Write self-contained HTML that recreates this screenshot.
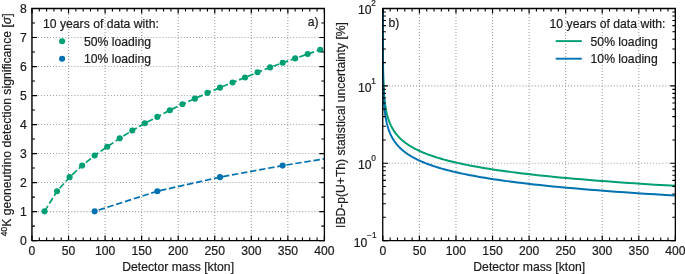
<!DOCTYPE html>
<html><head><meta charset="utf-8"><title>chart</title>
<style>html,body{margin:0;padding:0;background:#fff;}svg{display:block;will-change:transform;}text{font-family:"Liberation Sans",sans-serif;fill:#1a1a1a;stroke:#1a1a1a;stroke-width:0.2px;}</style>
</head><body>
<svg width="685" height="274" viewBox="0 0 685 274">
<rect width="685" height="274" fill="#fff"/>
<defs><clipPath id="ca"><rect x="32.00" y="8.50" width="292.40" height="232.10"/></clipPath>
<clipPath id="cb"><rect x="382.85" y="8.50" width="292.50" height="232.10"/></clipPath></defs>
<g stroke="#a0a0a0" stroke-width="1.1" fill="none">
<path stroke-dasharray="1.0 2.0" stroke-dashoffset="-0.65" d="M68.55 240.60V8.50"/>
<path stroke-dasharray="1.0 2.0" stroke-dashoffset="-0.65" d="M105.10 240.60V8.50"/>
<path stroke-dasharray="1.0 2.0" stroke-dashoffset="-0.65" d="M141.65 240.60V8.50"/>
<path stroke-dasharray="1.0 2.0" stroke-dashoffset="-0.65" d="M178.20 240.60V8.50"/>
<path stroke-dasharray="1.0 2.0" stroke-dashoffset="-0.65" d="M214.75 240.60V8.50"/>
<path stroke-dasharray="1.0 2.0" stroke-dashoffset="-0.65" d="M251.30 240.60V8.50"/>
<path stroke-dasharray="1.0 2.0" stroke-dashoffset="-0.65" d="M287.85 240.60V8.50"/>
<path stroke-dasharray="1.0 2.04" stroke-dashoffset="0.2" d="M32.00 211.59H324.40"/>
<path stroke-dasharray="1.0 2.04" stroke-dashoffset="0.2" d="M32.00 182.57H324.40"/>
<path stroke-dasharray="1.0 2.04" stroke-dashoffset="0.2" d="M32.00 153.56H324.40"/>
<path stroke-dasharray="1.0 2.04" stroke-dashoffset="0.2" d="M32.00 124.55H324.40"/>
<path stroke-dasharray="1.0 2.04" stroke-dashoffset="0.2" d="M32.00 95.54H324.40"/>
<path stroke-dasharray="1.0 2.04" stroke-dashoffset="0.2" d="M32.00 66.53H324.40"/>
<path stroke-dasharray="1.0 2.04" stroke-dashoffset="0.2" d="M32.00 37.51H324.40"/>
<path stroke-dasharray="1.0 2.0" stroke-dashoffset="-0.65" d="M419.41 240.60V8.50"/>
<path stroke-dasharray="1.0 2.0" stroke-dashoffset="-0.65" d="M455.98 240.60V8.50"/>
<path stroke-dasharray="1.0 2.0" stroke-dashoffset="-0.65" d="M492.54 240.60V8.50"/>
<path stroke-dasharray="1.0 2.0" stroke-dashoffset="-0.65" d="M529.10 240.60V8.50"/>
<path stroke-dasharray="1.0 2.0" stroke-dashoffset="-0.65" d="M565.66 240.60V8.50"/>
<path stroke-dasharray="1.0 2.0" stroke-dashoffset="-0.65" d="M602.23 240.60V8.50"/>
<path stroke-dasharray="1.0 2.0" stroke-dashoffset="-0.65" d="M638.79 240.60V8.50"/>
<path stroke-dasharray="1.0 2.04" stroke-dashoffset="0.2" d="M382.85 163.23H675.35"/>
<path stroke-dasharray="1.0 2.04" stroke-dashoffset="0.2" d="M382.85 85.87H675.35"/>
</g>
<g clip-path="url(#ca)">
<path d="M44.53 211.34 L57.06 191.21 L69.60 177.16 L82.13 165.58 L94.66 155.44 L107.19 146.75 L119.73 138.35 L132.26 130.53 L144.79 123.29 L157.32 116.92 L169.86 110.26 L182.39 104.18 L194.92 98.67 L207.45 92.88 L219.99 87.67 L232.52 82.45 L245.05 77.53 L257.58 72.32 L270.11 67.39 L282.65 62.76 L295.18 58.42 L307.71 54.07 L320.24 49.73 L332.78 45.67" fill="none" stroke="#009E73" stroke-width="1.7" stroke-dasharray="6.45 2.75" stroke-dashoffset="0"/>
<path d="M94.66 211.34 L157.32 191.21 L219.99 177.16 L282.65 165.58 L345.31 155.44" fill="none" stroke="#0072B2" stroke-width="1.7" stroke-dasharray="6.45 2.75" stroke-dashoffset="5.0"/>
<circle cx="44.53" cy="211.34" r="3.05" fill="#009E73"/>
<circle cx="57.06" cy="191.21" r="3.05" fill="#009E73"/>
<circle cx="69.60" cy="177.16" r="3.05" fill="#009E73"/>
<circle cx="82.13" cy="165.58" r="3.05" fill="#009E73"/>
<circle cx="94.66" cy="155.44" r="3.05" fill="#009E73"/>
<circle cx="107.19" cy="146.75" r="3.05" fill="#009E73"/>
<circle cx="119.73" cy="138.35" r="3.05" fill="#009E73"/>
<circle cx="132.26" cy="130.53" r="3.05" fill="#009E73"/>
<circle cx="144.79" cy="123.29" r="3.05" fill="#009E73"/>
<circle cx="157.32" cy="116.92" r="3.05" fill="#009E73"/>
<circle cx="169.86" cy="110.26" r="3.05" fill="#009E73"/>
<circle cx="182.39" cy="104.18" r="3.05" fill="#009E73"/>
<circle cx="194.92" cy="98.67" r="3.05" fill="#009E73"/>
<circle cx="207.45" cy="92.88" r="3.05" fill="#009E73"/>
<circle cx="219.99" cy="87.67" r="3.05" fill="#009E73"/>
<circle cx="232.52" cy="82.45" r="3.05" fill="#009E73"/>
<circle cx="245.05" cy="77.53" r="3.05" fill="#009E73"/>
<circle cx="257.58" cy="72.32" r="3.05" fill="#009E73"/>
<circle cx="270.11" cy="67.39" r="3.05" fill="#009E73"/>
<circle cx="282.65" cy="62.76" r="3.05" fill="#009E73"/>
<circle cx="295.18" cy="58.42" r="3.05" fill="#009E73"/>
<circle cx="307.71" cy="54.07" r="3.05" fill="#009E73"/>
<circle cx="320.24" cy="49.73" r="3.05" fill="#009E73"/>
<circle cx="332.78" cy="45.67" r="3.05" fill="#009E73"/>
<circle cx="94.66" cy="211.34" r="3.05" fill="#0072B2"/>
<circle cx="157.32" cy="191.21" r="3.05" fill="#0072B2"/>
<circle cx="219.99" cy="177.16" r="3.05" fill="#0072B2"/>
<circle cx="282.65" cy="165.58" r="3.05" fill="#0072B2"/>
<circle cx="345.31" cy="155.44" r="3.05" fill="#0072B2"/>
</g>
<g clip-path="url(#cb)">
<path d="M382.85 -3.81 L382.85 -3.15 L382.85 -2.49 L382.85 -1.83 L382.85 -1.17 L382.85 -0.52 L382.85 0.14 L382.85 0.80 L382.86 1.46 L382.86 2.12 L382.86 2.78 L382.86 3.44 L382.86 4.10 L382.86 4.76 L382.86 5.41 L382.86 6.07 L382.86 6.73 L382.86 7.39 L382.86 8.05 L382.86 8.71 L382.86 9.37 L382.86 10.03 L382.86 10.69 L382.86 11.34 L382.86 12.00 L382.86 12.66 L382.86 13.32 L382.86 13.98 L382.86 14.64 L382.86 15.30 L382.86 15.96 L382.86 16.62 L382.86 17.27 L382.86 17.93 L382.86 18.59 L382.86 19.25 L382.87 19.91 L382.87 20.57 L382.87 21.23 L382.87 21.89 L382.87 22.55 L382.87 23.20 L382.87 23.86 L382.87 24.52 L382.87 25.18 L382.87 25.84 L382.87 26.50 L382.87 27.16 L382.87 27.82 L382.87 28.48 L382.88 29.14 L382.88 29.79 L382.88 30.45 L382.88 31.11 L382.88 31.77 L382.88 32.43 L382.88 33.09 L382.88 33.75 L382.89 34.41 L382.89 35.07 L382.89 35.72 L382.89 36.38 L382.89 37.04 L382.89 37.70 L382.89 38.36 L382.90 39.02 L382.90 39.68 L382.90 40.34 L382.90 41.00 L382.90 41.65 L382.91 42.31 L382.91 42.97 L382.91 43.63 L382.91 44.29 L382.92 44.95 L382.92 45.61 L382.92 46.27 L382.92 46.93 L382.93 47.58 L382.93 48.24 L382.93 48.90 L382.94 49.56 L382.94 50.22 L382.94 50.88 L382.95 51.54 L382.95 52.20 L382.96 52.86 L382.96 53.51 L382.97 54.17 L382.97 54.83 L382.97 55.49 L382.98 56.15 L382.98 56.81 L382.99 57.47 L383.00 58.13 L383.00 58.79 L383.01 59.44 L383.01 60.10 L383.02 60.76 L383.03 61.42 L383.03 62.08 L383.04 62.74 L383.05 63.40 L383.06 64.06 L383.07 64.72 L383.07 65.37 L383.08 66.03 L383.09 66.69 L383.10 67.35 L383.11 68.01 L383.12 68.67 L383.13 69.33 L383.15 69.99 L383.16 70.65 L383.17 71.31 L383.18 71.96 L383.20 72.62 L383.21 73.28 L383.22 73.94 L383.24 74.60 L383.25 75.26 L383.27 75.92 L383.29 76.58 L383.31 77.24 L383.32 77.89 L383.34 78.55 L383.36 79.21 L383.38 79.87 L383.40 80.53 L383.43 81.19 L383.45 81.85 L383.47 82.51 L383.50 83.17 L383.52 83.82 L383.55 84.48 L383.58 85.14 L383.61 85.80 L383.64 86.46 L383.67 87.12 L383.70 87.78 L383.74 88.44 L383.77 89.10 L383.81 89.75 L383.85 90.41 L383.89 91.07 L383.93 91.73 L383.97 92.39 L384.02 93.05 L384.06 93.71 L384.11 94.37 L384.16 95.03 L384.21 95.68 L384.27 96.34 L384.33 97.00 L384.39 97.66 L384.45 98.32 L384.51 98.98 L384.58 99.64 L384.65 100.30 L384.72 100.96 L384.79 101.61 L384.87 102.27 L384.95 102.93 L385.04 103.59 L385.12 104.25 L385.21 104.91 L385.31 105.57 L385.41 106.23 L385.51 106.89 L385.61 107.54 L385.73 108.20 L385.84 108.86 L385.96 109.52 L386.08 110.18 L386.21 110.84 L386.35 111.50 L386.49 112.16 L386.63 112.82 L386.79 113.48 L386.94 114.13 L387.11 114.79 L387.28 115.45 L387.45 116.11 L387.64 116.77 L387.83 117.43 L388.03 118.09 L388.24 118.75 L388.45 119.41 L388.68 120.06 L388.91 120.72 L389.15 121.38 L389.40 122.04 L389.66 122.70 L389.94 123.36 L390.22 124.02 L390.52 124.68 L390.82 125.34 L391.14 125.99 L391.47 126.65 L391.82 127.31 L392.18 127.97 L392.55 128.63 L392.94 129.29 L393.34 129.95 L393.76 130.61 L394.20 131.27 L394.65 131.92 L395.12 132.58 L395.61 133.24 L396.12 133.90 L396.66 134.56 L397.21 135.22 L397.78 135.88 L398.38 136.54 L399.00 137.20 L399.65 137.85 L400.32 138.51 L401.02 139.17 L401.74 139.83 L402.50 140.49 L403.28 141.15 L404.10 141.81 L404.95 142.47 L405.84 143.13 L406.76 143.78 L407.71 144.44 L408.71 145.10 L409.74 145.76 L410.82 146.42 L411.94 147.08 L413.10 147.74 L414.31 148.40 L415.57 149.06 L416.88 149.71 L418.24 150.37 L419.65 151.03 L421.12 151.69 L422.65 152.35 L424.25 153.01 L425.90 153.67 L427.63 154.33 L429.42 154.99 L431.28 155.65 L433.22 156.30 L435.23 156.96 L437.33 157.62 L439.50 158.28 L441.77 158.94 L444.13 159.60 L446.58 160.26 L449.13 160.92 L451.78 161.58 L454.54 162.23 L457.40 162.89 L460.39 163.55 L463.49 164.21 L466.71 164.87 L470.07 165.53 L473.56 166.19 L477.18 166.85 L480.96 167.51 L484.88 168.16 L488.96 168.82 L493.21 169.48 L497.62 170.14 L502.21 170.80 L506.99 171.46 L511.95 172.12 L517.12 172.78 L522.49 173.44 L528.07 174.09 L533.88 174.75 L539.92 175.41 L546.21 176.07 L552.74 176.73 L559.54 177.39 L566.60 178.05 L573.95 178.71 L581.60 179.37 L589.55 180.02 L597.82 180.68 L606.42 181.34 L615.36 182.00 L624.66 182.66 L634.33 183.32 L644.39 183.98 L654.85 184.64 L665.73 185.30 L675.35 185.86" fill="none" stroke="#009E73" stroke-width="2.0" stroke-linejoin="round"/>
<path d="M382.85 5.86 L382.85 6.51 L382.85 7.17 L382.85 7.83 L382.85 8.49 L382.85 9.15 L382.85 9.81 L382.85 10.47 L382.86 11.13 L382.86 11.79 L382.86 12.44 L382.86 13.10 L382.86 13.76 L382.86 14.42 L382.86 15.08 L382.86 15.74 L382.86 16.40 L382.86 17.06 L382.86 17.72 L382.86 18.38 L382.86 19.03 L382.86 19.69 L382.86 20.35 L382.86 21.01 L382.86 21.67 L382.86 22.33 L382.86 22.99 L382.86 23.65 L382.86 24.31 L382.86 24.96 L382.86 25.62 L382.86 26.28 L382.86 26.94 L382.86 27.60 L382.86 28.26 L382.86 28.92 L382.87 29.58 L382.87 30.24 L382.87 30.89 L382.87 31.55 L382.87 32.21 L382.87 32.87 L382.87 33.53 L382.87 34.19 L382.87 34.85 L382.87 35.51 L382.87 36.17 L382.87 36.82 L382.87 37.48 L382.87 38.14 L382.88 38.80 L382.88 39.46 L382.88 40.12 L382.88 40.78 L382.88 41.44 L382.88 42.10 L382.88 42.75 L382.88 43.41 L382.89 44.07 L382.89 44.73 L382.89 45.39 L382.89 46.05 L382.89 46.71 L382.89 47.37 L382.89 48.03 L382.90 48.68 L382.90 49.34 L382.90 50.00 L382.90 50.66 L382.90 51.32 L382.91 51.98 L382.91 52.64 L382.91 53.30 L382.91 53.96 L382.92 54.61 L382.92 55.27 L382.92 55.93 L382.92 56.59 L382.93 57.25 L382.93 57.91 L382.93 58.57 L382.94 59.23 L382.94 59.89 L382.94 60.55 L382.95 61.20 L382.95 61.86 L382.96 62.52 L382.96 63.18 L382.97 63.84 L382.97 64.50 L382.97 65.16 L382.98 65.82 L382.98 66.48 L382.99 67.13 L383.00 67.79 L383.00 68.45 L383.01 69.11 L383.01 69.77 L383.02 70.43 L383.03 71.09 L383.03 71.75 L383.04 72.41 L383.05 73.06 L383.06 73.72 L383.07 74.38 L383.07 75.04 L383.08 75.70 L383.09 76.36 L383.10 77.02 L383.11 77.68 L383.12 78.34 L383.13 78.99 L383.15 79.65 L383.16 80.31 L383.17 80.97 L383.18 81.63 L383.20 82.29 L383.21 82.95 L383.22 83.61 L383.24 84.27 L383.25 84.92 L383.27 85.58 L383.29 86.24 L383.31 86.90 L383.32 87.56 L383.34 88.22 L383.36 88.88 L383.38 89.54 L383.40 90.20 L383.43 90.85 L383.45 91.51 L383.47 92.17 L383.50 92.83 L383.52 93.49 L383.55 94.15 L383.58 94.81 L383.61 95.47 L383.64 96.13 L383.67 96.78 L383.70 97.44 L383.74 98.10 L383.77 98.76 L383.81 99.42 L383.85 100.08 L383.89 100.74 L383.93 101.40 L383.97 102.06 L384.02 102.72 L384.06 103.37 L384.11 104.03 L384.16 104.69 L384.21 105.35 L384.27 106.01 L384.33 106.67 L384.39 107.33 L384.45 107.99 L384.51 108.65 L384.58 109.30 L384.65 109.96 L384.72 110.62 L384.79 111.28 L384.87 111.94 L384.95 112.60 L385.04 113.26 L385.12 113.92 L385.21 114.58 L385.31 115.23 L385.41 115.89 L385.51 116.55 L385.61 117.21 L385.73 117.87 L385.84 118.53 L385.96 119.19 L386.08 119.85 L386.21 120.51 L386.35 121.16 L386.49 121.82 L386.63 122.48 L386.79 123.14 L386.94 123.80 L387.11 124.46 L387.28 125.12 L387.45 125.78 L387.64 126.44 L387.83 127.09 L388.03 127.75 L388.24 128.41 L388.45 129.07 L388.68 129.73 L388.91 130.39 L389.15 131.05 L389.40 131.71 L389.66 132.37 L389.94 133.02 L390.22 133.68 L390.52 134.34 L390.82 135.00 L391.14 135.66 L391.47 136.32 L391.82 136.98 L392.18 137.64 L392.55 138.30 L392.94 138.95 L393.34 139.61 L393.76 140.27 L394.20 140.93 L394.65 141.59 L395.12 142.25 L395.61 142.91 L396.12 143.57 L396.66 144.23 L397.21 144.89 L397.78 145.54 L398.38 146.20 L399.00 146.86 L399.65 147.52 L400.32 148.18 L401.02 148.84 L401.74 149.50 L402.50 150.16 L403.28 150.82 L404.10 151.47 L404.95 152.13 L405.84 152.79 L406.76 153.45 L407.71 154.11 L408.71 154.77 L409.74 155.43 L410.82 156.09 L411.94 156.75 L413.10 157.40 L414.31 158.06 L415.57 158.72 L416.88 159.38 L418.24 160.04 L419.65 160.70 L421.12 161.36 L422.65 162.02 L424.25 162.68 L425.90 163.33 L427.63 163.99 L429.42 164.65 L431.28 165.31 L433.22 165.97 L435.23 166.63 L437.33 167.29 L439.50 167.95 L441.77 168.61 L444.13 169.26 L446.58 169.92 L449.13 170.58 L451.78 171.24 L454.54 171.90 L457.40 172.56 L460.39 173.22 L463.49 173.88 L466.71 174.54 L470.07 175.19 L473.56 175.85 L477.18 176.51 L480.96 177.17 L484.88 177.83 L488.96 178.49 L493.21 179.15 L497.62 179.81 L502.21 180.47 L506.99 181.12 L511.95 181.78 L517.12 182.44 L522.49 183.10 L528.07 183.76 L533.88 184.42 L539.92 185.08 L546.21 185.74 L552.74 186.40 L559.54 187.06 L566.60 187.71 L573.95 188.37 L581.60 189.03 L589.55 189.69 L597.82 190.35 L606.42 191.01 L615.36 191.67 L624.66 192.33 L634.33 192.99 L644.39 193.64 L654.85 194.30 L665.73 194.96 L675.35 195.52" fill="none" stroke="#0072B2" stroke-width="2.0" stroke-linejoin="round"/>
</g>
<path d="M32.00 240.60v-5.10 M32.00 8.50v5.10 M68.55 240.60v-5.10 M68.55 8.50v5.10 M105.10 240.60v-5.10 M105.10 8.50v5.10 M141.65 240.60v-5.10 M141.65 8.50v5.10 M178.20 240.60v-5.10 M178.20 8.50v5.10 M214.75 240.60v-5.10 M214.75 8.50v5.10 M251.30 240.60v-5.10 M251.30 8.50v5.10 M287.85 240.60v-5.10 M287.85 8.50v5.10 M324.40 240.60v-5.10 M324.40 8.50v5.10 M32.00 240.60h5.10 M324.40 240.60h-5.10 M32.00 211.59h5.10 M324.40 211.59h-5.10 M32.00 182.57h5.10 M324.40 182.57h-5.10 M32.00 153.56h5.10 M324.40 153.56h-5.10 M32.00 124.55h5.10 M324.40 124.55h-5.10 M32.00 95.54h5.10 M324.40 95.54h-5.10 M32.00 66.53h5.10 M324.40 66.53h-5.10 M32.00 37.51h5.10 M324.40 37.51h-5.10 M32.00 8.50h5.10 M324.40 8.50h-5.10" stroke="#000" stroke-width="1.2" fill="none"/>
<path d="M39.31 240.60v-3.00 M39.31 8.50v3.00 M46.62 240.60v-3.00 M46.62 8.50v3.00 M53.93 240.60v-3.00 M53.93 8.50v3.00 M61.24 240.60v-3.00 M61.24 8.50v3.00 M75.86 240.60v-3.00 M75.86 8.50v3.00 M83.17 240.60v-3.00 M83.17 8.50v3.00 M90.48 240.60v-3.00 M90.48 8.50v3.00 M97.79 240.60v-3.00 M97.79 8.50v3.00 M112.41 240.60v-3.00 M112.41 8.50v3.00 M119.72 240.60v-3.00 M119.72 8.50v3.00 M127.03 240.60v-3.00 M127.03 8.50v3.00 M134.34 240.60v-3.00 M134.34 8.50v3.00 M148.96 240.60v-3.00 M148.96 8.50v3.00 M156.27 240.60v-3.00 M156.27 8.50v3.00 M163.58 240.60v-3.00 M163.58 8.50v3.00 M170.89 240.60v-3.00 M170.89 8.50v3.00 M185.51 240.60v-3.00 M185.51 8.50v3.00 M192.82 240.60v-3.00 M192.82 8.50v3.00 M200.13 240.60v-3.00 M200.13 8.50v3.00 M207.44 240.60v-3.00 M207.44 8.50v3.00 M222.06 240.60v-3.00 M222.06 8.50v3.00 M229.37 240.60v-3.00 M229.37 8.50v3.00 M236.68 240.60v-3.00 M236.68 8.50v3.00 M243.99 240.60v-3.00 M243.99 8.50v3.00 M258.61 240.60v-3.00 M258.61 8.50v3.00 M265.92 240.60v-3.00 M265.92 8.50v3.00 M273.23 240.60v-3.00 M273.23 8.50v3.00 M280.54 240.60v-3.00 M280.54 8.50v3.00 M295.16 240.60v-3.00 M295.16 8.50v3.00 M302.47 240.60v-3.00 M302.47 8.50v3.00 M309.78 240.60v-3.00 M309.78 8.50v3.00 M317.09 240.60v-3.00 M317.09 8.50v3.00 M32.00 226.09h3.00 M324.40 226.09h-3.00 M32.00 197.08h3.00 M324.40 197.08h-3.00 M32.00 168.07h3.00 M324.40 168.07h-3.00 M32.00 139.06h3.00 M324.40 139.06h-3.00 M32.00 110.04h3.00 M324.40 110.04h-3.00 M32.00 81.03h3.00 M324.40 81.03h-3.00 M32.00 52.02h3.00 M324.40 52.02h-3.00 M32.00 23.01h3.00 M324.40 23.01h-3.00" stroke="#000" stroke-width="1.1" fill="none"/>
<path d="M31.27 8.50H325.05 M31.27 240.60H325.05" stroke="#000" stroke-width="1.3" fill="none"/>
<path d="M31.95 8.50V240.60" stroke="#000" stroke-width="1.45" fill="none"/>
<path d="M324.40 8.50V240.60" stroke="#000" stroke-width="1.3" fill="none"/>
<path d="M382.85 240.60v-5.10 M382.85 8.50v5.10 M419.41 240.60v-5.10 M419.41 8.50v5.10 M455.98 240.60v-5.10 M455.98 8.50v5.10 M492.54 240.60v-5.10 M492.54 8.50v5.10 M529.10 240.60v-5.10 M529.10 8.50v5.10 M565.66 240.60v-5.10 M565.66 8.50v5.10 M602.23 240.60v-5.10 M602.23 8.50v5.10 M638.79 240.60v-5.10 M638.79 8.50v5.10 M675.35 240.60v-5.10 M675.35 8.50v5.10 M382.85 240.60h5.10 M675.35 240.60h-5.10 M382.85 163.23h5.10 M675.35 163.23h-5.10 M382.85 85.87h5.10 M675.35 85.87h-5.10 M382.85 8.50h5.10 M675.35 8.50h-5.10" stroke="#000" stroke-width="1.2" fill="none"/>
<path d="M390.16 240.60v-3.00 M390.16 8.50v3.00 M397.48 240.60v-3.00 M397.48 8.50v3.00 M404.79 240.60v-3.00 M404.79 8.50v3.00 M412.10 240.60v-3.00 M412.10 8.50v3.00 M426.73 240.60v-3.00 M426.73 8.50v3.00 M434.04 240.60v-3.00 M434.04 8.50v3.00 M441.35 240.60v-3.00 M441.35 8.50v3.00 M448.66 240.60v-3.00 M448.66 8.50v3.00 M463.29 240.60v-3.00 M463.29 8.50v3.00 M470.60 240.60v-3.00 M470.60 8.50v3.00 M477.91 240.60v-3.00 M477.91 8.50v3.00 M485.23 240.60v-3.00 M485.23 8.50v3.00 M499.85 240.60v-3.00 M499.85 8.50v3.00 M507.16 240.60v-3.00 M507.16 8.50v3.00 M514.48 240.60v-3.00 M514.48 8.50v3.00 M521.79 240.60v-3.00 M521.79 8.50v3.00 M536.41 240.60v-3.00 M536.41 8.50v3.00 M543.73 240.60v-3.00 M543.73 8.50v3.00 M551.04 240.60v-3.00 M551.04 8.50v3.00 M558.35 240.60v-3.00 M558.35 8.50v3.00 M572.98 240.60v-3.00 M572.98 8.50v3.00 M580.29 240.60v-3.00 M580.29 8.50v3.00 M587.60 240.60v-3.00 M587.60 8.50v3.00 M594.91 240.60v-3.00 M594.91 8.50v3.00 M609.54 240.60v-3.00 M609.54 8.50v3.00 M616.85 240.60v-3.00 M616.85 8.50v3.00 M624.16 240.60v-3.00 M624.16 8.50v3.00 M631.48 240.60v-3.00 M631.48 8.50v3.00 M646.10 240.60v-3.00 M646.10 8.50v3.00 M653.41 240.60v-3.00 M653.41 8.50v3.00 M660.73 240.60v-3.00 M660.73 8.50v3.00 M668.04 240.60v-3.00 M668.04 8.50v3.00 M382.85 217.31h3.00 M675.35 217.31h-3.00 M382.85 203.69h3.00 M675.35 203.69h-3.00 M382.85 194.02h3.00 M675.35 194.02h-3.00 M382.85 186.52h3.00 M675.35 186.52h-3.00 M382.85 180.40h3.00 M675.35 180.40h-3.00 M382.85 175.22h3.00 M675.35 175.22h-3.00 M382.85 170.73h3.00 M675.35 170.73h-3.00 M382.85 166.77h3.00 M675.35 166.77h-3.00 M382.85 139.94h3.00 M675.35 139.94h-3.00 M382.85 126.32h3.00 M675.35 126.32h-3.00 M382.85 116.65h3.00 M675.35 116.65h-3.00 M382.85 109.16h3.00 M675.35 109.16h-3.00 M382.85 103.03h3.00 M675.35 103.03h-3.00 M382.85 97.85h3.00 M675.35 97.85h-3.00 M382.85 93.36h3.00 M675.35 93.36h-3.00 M382.85 89.41h3.00 M675.35 89.41h-3.00 M382.85 62.58h3.00 M675.35 62.58h-3.00 M382.85 48.95h3.00 M675.35 48.95h-3.00 M382.85 39.29h3.00 M675.35 39.29h-3.00 M382.85 31.79h3.00 M675.35 31.79h-3.00 M382.85 25.66h3.00 M675.35 25.66h-3.00 M382.85 20.48h3.00 M675.35 20.48h-3.00 M382.85 16.00h3.00 M675.35 16.00h-3.00 M382.85 12.04h3.00 M675.35 12.04h-3.00" stroke="#000" stroke-width="1.1" fill="none"/>
<path d="M382.20 8.50H676.00 M382.20 240.60H676.00" stroke="#000" stroke-width="1.3" fill="none"/>
<path d="M382.73 8.50V240.60" stroke="#000" stroke-width="1.30" fill="none"/>
<path d="M675.35 8.50V240.60" stroke="#000" stroke-width="1.3" fill="none"/>
<text x="32.00" y="254.50" font-size="12.20" text-anchor="middle">0</text>
<text x="382.85" y="254.50" font-size="12.20" text-anchor="middle">0</text>
<text x="68.55" y="254.50" font-size="12.20" text-anchor="middle">50</text>
<text x="419.41" y="254.50" font-size="12.20" text-anchor="middle">50</text>
<text x="105.10" y="254.50" font-size="12.20" text-anchor="middle">100</text>
<text x="455.98" y="254.50" font-size="12.20" text-anchor="middle">100</text>
<text x="141.65" y="254.50" font-size="12.20" text-anchor="middle">150</text>
<text x="492.54" y="254.50" font-size="12.20" text-anchor="middle">150</text>
<text x="178.20" y="254.50" font-size="12.20" text-anchor="middle">200</text>
<text x="529.10" y="254.50" font-size="12.20" text-anchor="middle">200</text>
<text x="214.75" y="254.50" font-size="12.20" text-anchor="middle">250</text>
<text x="565.66" y="254.50" font-size="12.20" text-anchor="middle">250</text>
<text x="251.30" y="254.50" font-size="12.20" text-anchor="middle">300</text>
<text x="602.23" y="254.50" font-size="12.20" text-anchor="middle">300</text>
<text x="287.85" y="254.50" font-size="12.20" text-anchor="middle">350</text>
<text x="638.79" y="254.50" font-size="12.20" text-anchor="middle">350</text>
<text x="324.40" y="254.50" font-size="12.20" text-anchor="middle">400</text>
<text x="675.35" y="254.50" font-size="12.20" text-anchor="middle">400</text>
<text x="26.90" y="245.05" font-size="12.20" text-anchor="end">0</text>
<text x="26.90" y="216.04" font-size="12.20" text-anchor="end">1</text>
<text x="26.90" y="187.02" font-size="12.20" text-anchor="end">2</text>
<text x="26.90" y="158.01" font-size="12.20" text-anchor="end">3</text>
<text x="26.90" y="129.00" font-size="12.20" text-anchor="end">4</text>
<text x="26.90" y="99.99" font-size="12.20" text-anchor="end">5</text>
<text x="26.90" y="70.98" font-size="12.20" text-anchor="end">6</text>
<text x="26.90" y="41.96" font-size="12.20" text-anchor="end">7</text>
<text x="26.90" y="12.95" font-size="12.20" text-anchor="end">8</text>
<text x="358.0" y="14.45" font-size="12.20">10<tspan dy="-8.20" font-size="8.3" dx="-0.2">2</tspan></text>
<text x="358.0" y="91.50" font-size="12.20">10<tspan dy="-7.90" font-size="8.3" dx="-0.2">1</tspan></text>
<text x="358.0" y="168.96" font-size="12.20">10<tspan dy="-8.10" font-size="8.3" dx="-0.2">0</tspan></text>
<text x="353.7" y="246.80" font-size="12.20">10<tspan dy="-9.10" font-size="8.3" dx="-0.2">−1</tspan></text>
<text x="178.15" y="271.0" font-size="12.20" text-anchor="middle">Detector mass [kton]</text>
<text x="529.2" y="271.0" font-size="12.20" text-anchor="middle">Detector mass [kton]</text>
<text transform="translate(10.6 124.8) rotate(-90)" font-size="12.20" text-anchor="middle"><tspan font-size="8.4" dy="-3.3">40</tspan><tspan dy="3.3">K geoneutrino detection significance [</tspan><tspan font-style="italic">σ</tspan>]</text>
<text transform="translate(344.9 227.95) rotate(-90)" font-size="12.14">IBD-p(U+Th) statistical uncertainty [%]</text>
<text x="43.0" y="27.85" font-size="12.20">10 years of data with:</text>
<circle cx="62.1" cy="41.2" r="3.05" fill="#009E73"/>
<circle cx="62.1" cy="58.7" r="3.05" fill="#0072B2"/>
<text x="84.0" y="45.6" font-size="12.20">50% loading</text>
<text x="84.0" y="62.9" font-size="12.20">10% loading</text>
<text x="318.6" y="26.4" font-size="12.20" text-anchor="end">a)</text>
<text x="549.6" y="27.95" font-size="12.20">10 years of data with:</text>
<path d="M555.7 41.1H581.8" stroke="#009E73" stroke-width="1.9"/>
<path d="M555.7 58.7H581.8" stroke="#0072B2" stroke-width="1.9"/>
<text x="590.6" y="45.6" font-size="12.20">50% loading</text>
<text x="590.6" y="62.9" font-size="12.20">10% loading</text>
<text x="388.6" y="26.8" font-size="12.20">b)</text>
</svg></body></html>
